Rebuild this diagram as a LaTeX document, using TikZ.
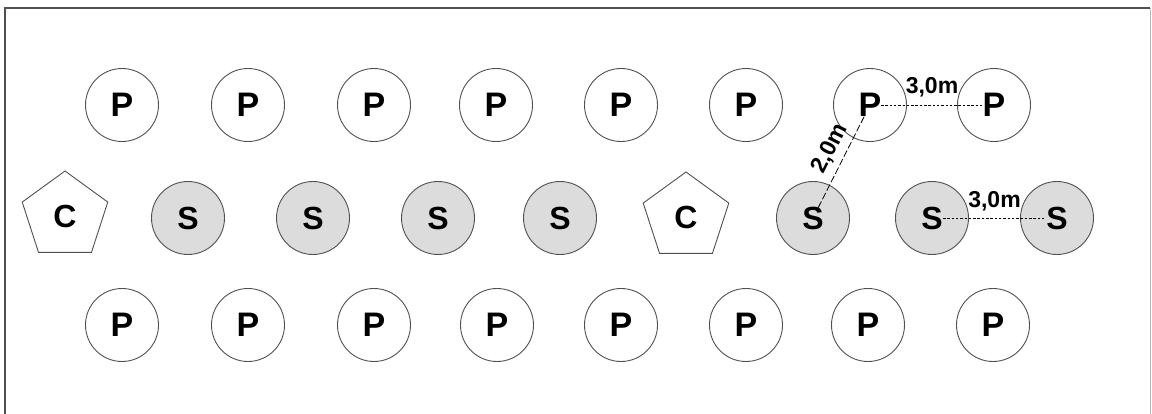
\documentclass[tikz,border=0pt]{standalone}
\usepackage{fontspec}
\setmainfont{Liberation Sans}
\usetikzlibrary{positioning,shapes.geometric}
\definecolor{plantgray}{HTML}{DCDCDC}
\definecolor{edgegray}{HTML}{505050}

\begin{document}
\begin{tikzpicture}[
    x=1pt, y=-1pt,
    plant/.style={draw=edgegray, circle, line width=0.9pt, minimum size=73pt, inner sep=0pt, font=\fontsize{34}{36}\selectfont\bfseries},
    shade/.style={plant, fill=plantgray, font=\fontsize{32}{34}\selectfont\bfseries},
    central/.style={draw=edgegray, regular polygon, regular polygon sides=5, line width=0.9pt, minimum size=90pt, inner sep=0pt, font=\fontsize{32}{34}\selectfont\bfseries},
    spacing/.style={line width=0.8pt, dash pattern=on 2.5pt off 1.8pt, shorten <=11pt, shorten >=11pt},
    rowgap/.style={line width=0.8pt, dash pattern=on 7pt off 2.5pt, shorten <=13pt, shorten >=11pt},
    dist/.style={font=\fontsize{23}{25}\selectfont\bfseries, inner sep=1pt},
]
\useasboundingbox (0,0) rectangle (1152,414);
\fill[white] (0,0) rectangle (1152,414);
\draw[edgegray, line width=1.6pt] (5,414) -- (5,8) -- (1150,8);
\draw[edgegray!40, line width=0.8pt] (1150,8) -- (1150,414);

% upper row
\node[plant] (pt1) at (122,105) {P};
\node[plant] (pt2) at (248,105) {P};
\node[plant] (pt3) at (374,105) {P};
\node[plant] (pt4) at (496,105) {P};
\node[plant] (pt5) at (621,105) {P};
\node[plant] (pt6) at (746,105) {P};
\node[plant] (pt7) at (870,105) {P};
\node[plant] (pt8) at (994,105) {P};

% middle row
\node[central] (c1) at (65,216) {C};
\node[shade] (s1) at (188,218) {S};
\node[shade] (s2) at (313,218) {S};
\node[shade] (s3) at (438,218) {S};
\node[shade] (s4) at (560,218) {S};
\node[central] (c2) at (686,217) {C};
\node[shade] (s5) at (813,218) {S};
\node[shade] (s6) at (932,218) {S};
\node[shade] (s7) at (1057,218) {S};

% lower row
\node[plant] (pb1) at (122,325) {P};
\node[plant] (pb2) at (248,325) {P};
\node[plant] (pb3) at (374,325) {P};
\node[plant] (pb4) at (497,325) {P};
\node[plant] (pb5) at (621,325) {P};
\node[plant] (pb6) at (746,325) {P};
\node[plant] (pb7) at (868,325) {P};
\node[plant] (pb8) at (993,325) {P};

\draw[spacing] (pt7.center) -- node[dist, above=7pt] {3,0m} (pt8.center);
\draw[rowgap] (pt7.center) -- node[dist, sloped, above=5pt, pos=0.45] {2,0m} (s5.center);
\draw[spacing] (s6.center) -- node[dist, above=6pt] {3,0m} (s7.center);

\end{tikzpicture}
\end{document}
